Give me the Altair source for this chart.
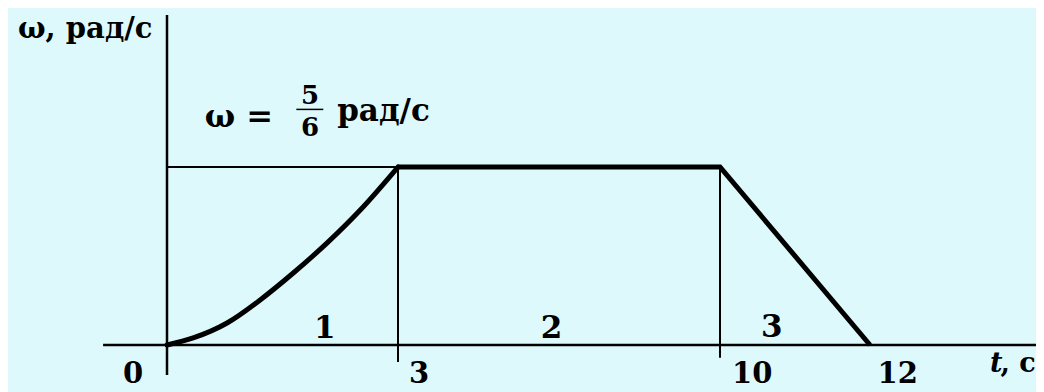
import altair as alt
import pandas as pd

# Data
curve_t = [0, 0.34, 0.78, 1.21, 1.64, 2.08, 2.51, 3]
curve_w = [0, 0.033, 0.103, 0.211, 0.337, 0.478, 0.632, 5 / 6]
poly_t = [3, 10, 12]
poly_w = [5 / 6, 5 / 6, 0]
W_MAX = 5 / 6

tick_vals = [0, 3, 10, 12]
tick_labels = ["0", "3", "10", "12"]
region_labels = ["1", "2", "3"]

FONT = "DejaVu Serif"
BG = "#ddf9fb"

xs = alt.Scale(domain=[0, 3, 10, 12], range=[159, 390, 712, 862], nice=False, zero=False)
ys = alt.Scale(domain=[0, W_MAX], range=[337, 159], nice=False, zero=False)


def X(f="t"):
    return alt.X(f"{f}:Q", scale=xs, axis=None)


def Y(f="w"):
    return alt.Y(f"{f}:Q", scale=ys, axis=None)


# axes (cross)
axes_df = pd.DataFrame({
    "t": [-0.83, 0], "t2": [14.23, 0],
    "w": [0, -0.14], "w2": [0, 1.545],
})
axes = alt.Chart(axes_df).mark_rule(color="black", strokeWidth=2.5).encode(
    x=X("t"), x2="t2", y=Y("w"), y2="w2")

# thin guide lines
guide_df = pd.DataFrame({
    "t": [0, 3, 10], "t2": [10, 3, 10],
    "w": [W_MAX, -0.08, -0.06], "w2": [W_MAX, W_MAX, W_MAX],
})
guides = alt.Chart(guide_df).mark_rule(color="black", strokeWidth=2).encode(
    x=X("t"), x2="t2", y=Y("w"), y2="w2")

curve = alt.Chart(pd.DataFrame({"t": curve_t, "w": curve_w, "i": range(len(curve_t))})).mark_line(
    color="black", strokeWidth=5, interpolate="monotone", strokeCap="round").encode(
    x=X(), y=Y(), order="i:Q")

poly = alt.Chart(pd.DataFrame({"t": poly_t, "w": poly_w, "i": range(len(poly_t))})).mark_line(
    color="black", strokeWidth=5, strokeJoin="miter").encode(
    x=X(), y=Y(), order="i:Q")

# tick labels
tick_df = pd.DataFrame({"t": [-0.44, 3.46, 10.43, 12.37], "w": [-0.178] * 4, "label": tick_labels})
ticks = alt.Chart(tick_df).mark_text(font=FONT, fontWeight="bold", fontSize=29, align="center",
                                     baseline="alphabetic", color="black").encode(
    x=X(), y=Y(), text="label:N")

# region labels
reg_df = pd.DataFrame({"t": [2.05, 6.34, 10.69], "w": [0.035, 0.035, 0.037], "label": region_labels})
regions = alt.Chart(reg_df).mark_text(font=FONT, fontWeight="bold", fontSize=31, align="center",
                                      baseline="alphabetic", color="black").encode(
    x=X(), y=Y(), text="label:N")

# other texts (left aligned)
txt_df = pd.DataFrame({
    "t": [-1.935, 0.49, 2.21, 13.74],
    "w": [1.437, 1.021, 1.049, -0.126],
    "label": ["ω, рад/с", "ω =", "рад/с", ", c"],
    "size": [29, 32, 31, 27],
})
texts = alt.Chart(txt_df).mark_text(font=FONT, fontWeight="bold", align="left",
                                    baseline="alphabetic", color="black").encode(
    x=X(), y=Y(), text="label:N", size=alt.Size("size:Q", scale=None, legend=None))

t_df = pd.DataFrame({"t": [13.6], "w": [-0.126], "label": ["t"]})
t_txt = alt.Chart(t_df).mark_text(font=FONT, fontWeight="bold", fontStyle="italic", fontSize=27,
                                  align="left", baseline="alphabetic", color="black").encode(
    x=X(), y=Y(), text="label:N")

# fraction 5/6
frac_df = pd.DataFrame({"t": [1.857, 1.857], "w": [1.128, 0.979], "label": ["5", "6"]})
frac = alt.Chart(frac_df).mark_text(font=FONT, fontWeight="bold", fontSize=26, align="center",
                                    baseline="alphabetic", color="black").encode(
    x=X(), y=Y(), text="label:N")
bar_df = pd.DataFrame({"t": [1.68], "t2": [2.03], "w": [1.103]})
frac_bar = alt.Chart(bar_df).mark_rule(color="black", strokeWidth=1.5).encode(
    x=X("t"), x2="t2", y=Y("w"))

chart = alt.layer(axes, guides, curve, poly, ticks, regions, texts, t_txt, frac, frac_bar).properties(
    width=1028, height=384,
    autosize=alt.AutoSizeParams(type="none"),
    padding=0,
    background=BG,
).configure_view(stroke=None)

chart.save("out.html", embed_options={"renderer": "svg", "actions": False})
